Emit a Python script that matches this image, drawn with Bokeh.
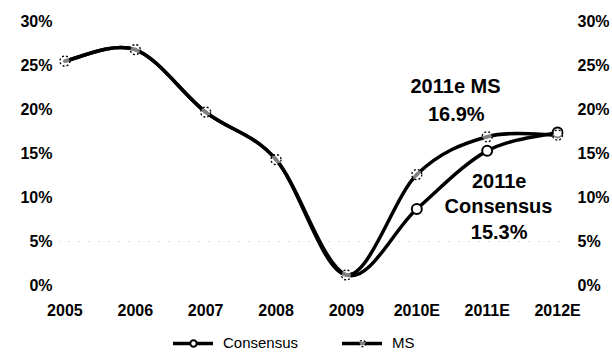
from bokeh.plotting import figure
from bokeh.layouts import column
from bokeh.models import (Range1d, LinearAxis, FixedTicker, PrintfTickFormatter,
                          Legend, LegendItem, ColumnDataSource)
from bokeh.core.properties import value
from bokeh.embed import file_html
from bokeh.resources import INLINE

# ---- data ----
years = ["2005", "2006", "2007", "2008", "2009", "2010E", "2011E", "2012E"]
consensus = [25.5, 26.8, 19.7, 14.3, 1.2, 8.7, 15.3, 17.4]
ms = [25.5, 26.8, 19.7, 14.3, 1.2, 12.6, 16.9, 17.1]
y_ticks = [0, 5, 10, 15, 20, 25, 30]

FONT = "Liberation Sans"

p = figure(width=612, height=326, output_backend="svg", toolbar_location=None,
           x_range=Range1d(-0.091, 7.084), y_range=Range1d(0, 30),
           min_border_left=58, min_border_right=41, min_border_top=21,
           min_border_bottom=41)
p.outline_line_color = None
p.background_fill_color = "white"
p.border_fill_color = "white"

xs = list(range(len(years)))


def smooth_segments(ys):
    n = len(ys)
    d = dict(x0=[], y0=[], x1=[], y1=[], cx0=[], cy0=[], cx1=[], cy1=[])
    for i in range(n - 1):
        p0 = (xs[max(i - 1, 0)], ys[max(i - 1, 0)])
        p1 = (xs[i], ys[i])
        p2 = (xs[i + 1], ys[i + 1])
        p3 = (xs[min(i + 2, n - 1)], ys[min(i + 2, n - 1)])
        d["x0"].append(p1[0]); d["y0"].append(p1[1])
        d["x1"].append(p2[0]); d["y1"].append(p2[1])
        d["cx0"].append(p1[0] + (p2[0] - p0[0]) / 6)
        d["cy0"].append(p1[1] + (p2[1] - p0[1]) / 6)
        d["cx1"].append(p2[0] - (p3[0] - p1[0]) / 6)
        d["cy1"].append(p2[1] - (p3[1] - p1[1]) / 6)
    return ColumnDataSource(d)


LINE = dict(line_color="black", line_width=3.5, line_cap="round")
CONS_MK = dict(marker="circle", size=10, fill_color="white", line_color="black", line_width=2)
MS_MK = dict(marker="circle", size=10, fill_color="white", fill_alpha=0.5,
             line_color="black", line_width=1.3, line_dash="2 2")

p.bezier(x0="x0", y0="y0", x1="x1", y1="y1", cx0="cx0", cy0="cy0",
         cx1="cx1", cy1="cy1", source=smooth_segments(consensus), **LINE)
p.bezier(x0="x0", y0="y0", x1="x1", y1="y1", cx0="cx0", cy0="cy0",
         cx1="cx1", cy1="cy1", source=smooth_segments(ms), **LINE)
# consensus markers where it differs from MS (history is shared)
c_idx = [i for i in xs if consensus[i] != ms[i]]
p.scatter([xs[i] for i in c_idx], [consensus[i] for i in c_idx], **CONS_MK)
p.scatter(xs, ms, **MS_MK)

# ---- axes ----
p.xaxis.ticker = FixedTicker(ticks=xs)
p.xaxis.major_label_overrides = {i: y for i, y in enumerate(years)}
for ax in [p.xaxis[0], p.yaxis[0]]:
    ax.axis_line_color = None
    ax.major_tick_line_color = None
    ax.minor_tick_line_color = None
    ax.major_label_text_font = FONT
    ax.major_label_text_font_style = "bold"
    ax.major_label_text_font_size = "16px"
    ax.major_label_text_color = "black"
p.xaxis.major_label_standoff = 10
p.yaxis.ticker = FixedTicker(ticks=y_ticks)
p.yaxis.formatter = PrintfTickFormatter(format="%d%%")
p.yaxis.major_label_standoff = 0

right = LinearAxis(ticker=FixedTicker(ticks=y_ticks),
                   formatter=PrintfTickFormatter(format="%d%%"),
                   axis_line_color=None, major_tick_line_color=None,
                   minor_tick_line_color=None, major_label_text_font=FONT,
                   major_label_text_font_style="bold",
                   major_label_text_font_size="16px",
                   major_label_text_color="black", major_label_standoff=8)
p.add_layout(right, "right")

p.xgrid.visible = False
p.ygrid.ticker = FixedTicker(ticks=[5])
p.ygrid.grid_line_color = "#bbbbbb"
p.ygrid.grid_line_dash = "1 9"

# ---- annotations ----
ann_font = dict(text_font=value(FONT), text_font_style="bold", text_font_size="20px",
                text_align="center", text_baseline="middle", text_color="black")
p.text(x=[5.55, 5.56], y=[22.7, 19.5],
       text=["2011e MS", f"{ms[6]:.1f}%"], **ann_font)
p.text(x=[6.17, 6.16, 6.17], y=[11.9, 9.0, 6.1],
       text=["2011e", "Consensus", f"{consensus[6]:.1f}%"], **ann_font)

# ---- legend strip below the chart ----
q = figure(width=612, height=27, output_backend="svg", toolbar_location=None,
           x_range=Range1d(0, 1), y_range=Range1d(0, 1),
           min_border=0, outline_line_color=None)
q.axis.visible = False
q.grid.visible = False
# legend-only renderers, placed outside the strip's visible range
off = [-5]
lc = q.line(x=off, y=off, **LINE)
sc = q.scatter(x=off, y=off, **CONS_MK)
lm = q.line(x=off, y=off, **LINE)
sm = q.scatter(x=off, y=off, **MS_MK)
legend = Legend(items=[LegendItem(label="Consensus", renderers=[lc, sc]),
                       LegendItem(label="MS", renderers=[lm, sm])],
                orientation="horizontal", location=(115, 2),
                border_line_color=None, background_fill_alpha=0,
                padding=0, margin=0, spacing=44, glyph_width=40, glyph_height=16,
                label_height=16, label_standoff=10, label_text_color="black",
                label_text_font=FONT, label_text_font_size="15px")
q.add_layout(legend)

open("out.html", "w").write(file_html(column(p, q, spacing=0), INLINE))
